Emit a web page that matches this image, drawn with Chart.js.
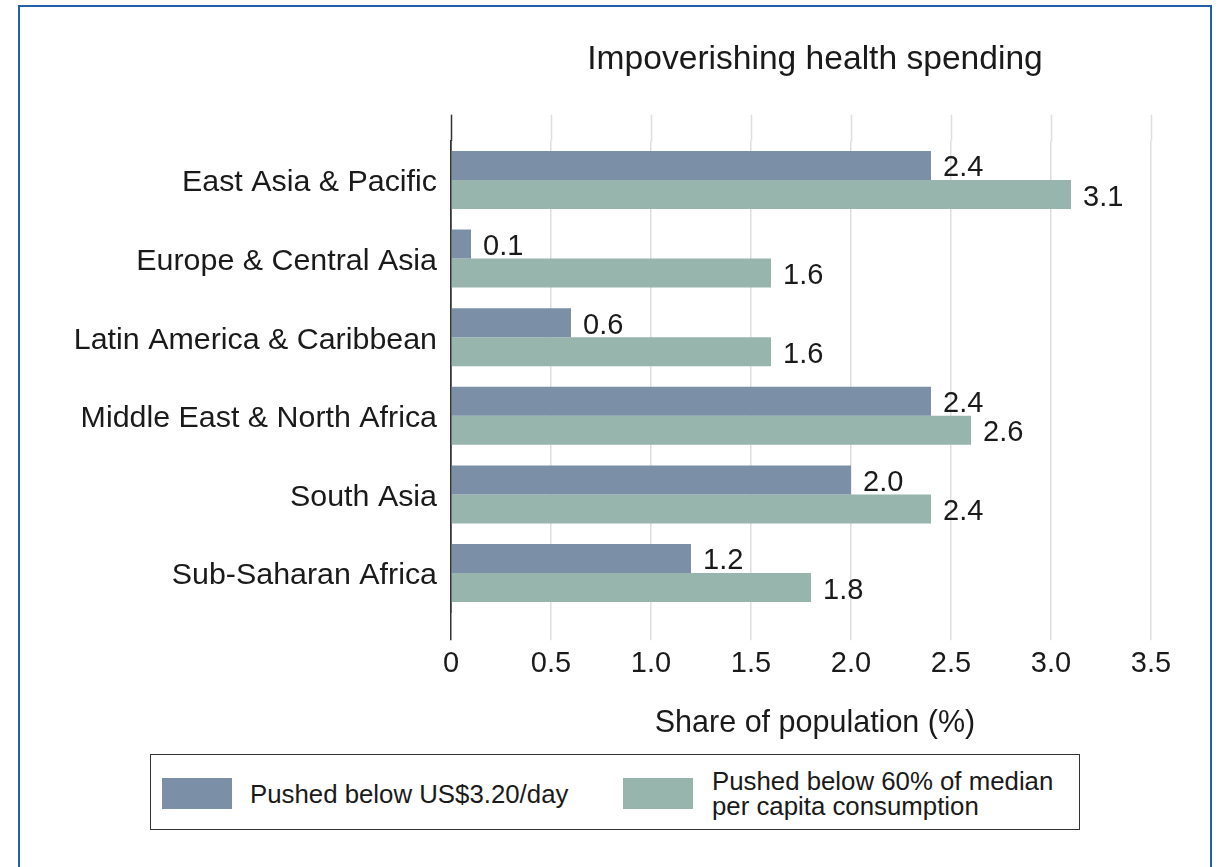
<!DOCTYPE html>
<html>
<head>
<meta charset="utf-8">
<title>Impoverishing health spending</title>
<script src="https://cdn.jsdelivr.net/npm/chart.js@4"></script>
<style>
    body { margin: 0; background: #fff; font-family: 'Liberation Sans', Arial, sans-serif; }
    #wrap { position: relative; width: 1220px; height: 867px; overflow: hidden; }
    #frame {
        position: absolute; left: 18px; top: 5px; width: 1190px; height: 900px;
        border: 2px solid #2460a7; pointer-events: none;
    }
    #legend {
        position: absolute; left: 150px; top: 754px; width: 928px; height: 74px;
        border: 1.5px solid #333; background: #fff; color: #1a1a1a; font-size: 25.8px;
    }
    .swatch { position: absolute; width: 70px; height: 31px; top: 23px; }
    .ltext { position: absolute; line-height: 25px; white-space: nowrap; }
</style>
</head>
<body>
<div id="wrap">
    <canvas id="healthChart" width="1220" height="867"></canvas>
    <div id="frame"></div>
    <div id="legend"></div>
</div>
<script>
// Regions and the two poverty measures (share of population, %)
const regions = [
    'East Asia & Pacific',
    'Europe & Central Asia',
    'Latin America & Caribbean',
    'Middle East & North Africa',
    'South Asia',
    'Sub-Saharan Africa'
];
const below320 = [2.4, 0.1, 0.6, 2.4, 2.0, 1.2];
const below60Median = [3.1, 1.6, 1.6, 2.6, 2.4, 1.8];

const seriesLabels = ['Pushed below US$3.20/day', ['Pushed below 60% of median', 'per capita consumption']];
const seriesColors = ['#7b8fa7', '#97b5ad'];
const xTicks = [0, 0.5, 1.0, 1.5, 2.0, 2.5, 3.0, 3.5];

const FONT = "'Liberation Sans', Arial, sans-serif";
const TEXT = '#1a1a1a';
const GRID = '#dedede';
const AXIS = '#333';

// value labels just past the end of every bar
const valueLabels = {
    id: 'valueLabels',
    afterDatasetsDraw(chart) {
        const ctx = chart.ctx;
        ctx.save();
        ctx.font = '29px ' + FONT;
        ctx.fillStyle = TEXT;
        ctx.textAlign = 'left';
        ctx.textBaseline = 'middle';
        chart.data.datasets.forEach((ds, i) => {
            chart.getDatasetMeta(i).data.forEach((bar, j) => {
                ctx.fillText(ds.data[j].toFixed(1), bar.x + 12, bar.y + 3);
            });
        });
        ctx.restore();
    }
};

// tick marks double as grid extensions above/below the plot; the zero one is the axis
const lineColor = c => (c.tick && c.tick.value === 0) ? AXIS : GRID;

const xRange = {
    type: 'linear',
    min: 0,
    max: 3.64,
    afterBuildTicks: scale => { scale.ticks = xTicks.map(v => ({ value: v })); }
};

new Chart(document.getElementById('healthChart'), {
    type: 'bar',
    data: {
        labels: regions,
        datasets: [
            { label: seriesLabels[0], data: below320, backgroundColor: seriesColors[0], borderWidth: 0 },
            { label: seriesLabels[1].join(' '), data: below60Median, backgroundColor: seriesColors[1], borderWidth: 0 }
        ]
    },
    options: {
        indexAxis: 'y',
        responsive: false,
        animation: false,
        categoryPercentage: 0.738,
        barPercentage: 1.0,
        layout: { padding: { left: 0, right: 41, top: 0, bottom: 124.7 } },
        plugins: {
            legend: { display: false },
            tooltip: { enabled: false }
        },
        scales: {
            x: {
                ...xRange,
                position: 'bottom',
                border: { display: false },
                grid: { color: lineColor, lineWidth: 1.5, tickColor: lineColor, tickWidth: 1.5, tickLength: 28 },
                ticks: {
                    padding: 6,
                    color: TEXT,
                    font: { family: FONT, size: 29 },
                    callback: v => v === 0 ? '0' : Number(v).toFixed(1)
                },
                title: {
                    display: true,
                    text: 'Share of population (%)',
                    color: TEXT,
                    font: { family: FONT, size: 30.5 },
                    padding: { top: 0, bottom: 0 }
                },
                afterFit: s => { s.height = 130; }
            },
            xTop: {
                ...xRange,
                position: 'top',
                border: { display: false },
                grid: { drawOnChartArea: false, tickColor: lineColor, tickWidth: 1.5, tickLength: 26 },
                ticks: { display: false },
                title: {
                    display: true,
                    text: 'Impoverishing health spending',
                    color: TEXT,
                    font: { family: FONT, size: 33.6 },
                    padding: { top: 40, bottom: 0 }
                },
                afterFit: s => { s.height = 140.7; }
            },
            y: {
                type: 'category',
                grid: { display: false, drawTicks: false },
                border: { display: true, color: AXIS, width: 1.5 },
                ticks: {
                    padding: 14,
                    labelOffset: 3,
                    color: TEXT,
                    font: { family: FONT, size: 30.4 }
                },
                afterFit: s => { s.width = 451; }
            }
        }
    },
    plugins: [valueLabels]
});

// legend box under the chart, built from the same series labels and colours
const legend = document.getElementById('legend');
const legendPos = [{ sx: 11, tx: 99 }, { sx: 472, tx: 561 }];
seriesLabels.forEach((lab, i) => {
    const sw = document.createElement('div');
    sw.className = 'swatch';
    sw.style.left = legendPos[i].sx + 'px';
    sw.style.background = seriesColors[i];
    legend.appendChild(sw);

    const lines = Array.isArray(lab) ? lab : [lab];
    const tx = document.createElement('div');
    tx.className = 'ltext';
    tx.style.left = legendPos[i].tx + 'px';
    tx.style.top = (39 - lines.length * 12.5) + 'px';
    tx.innerHTML = lines.join('<br>');
    legend.appendChild(tx);
});
</script>
</body>
</html>
